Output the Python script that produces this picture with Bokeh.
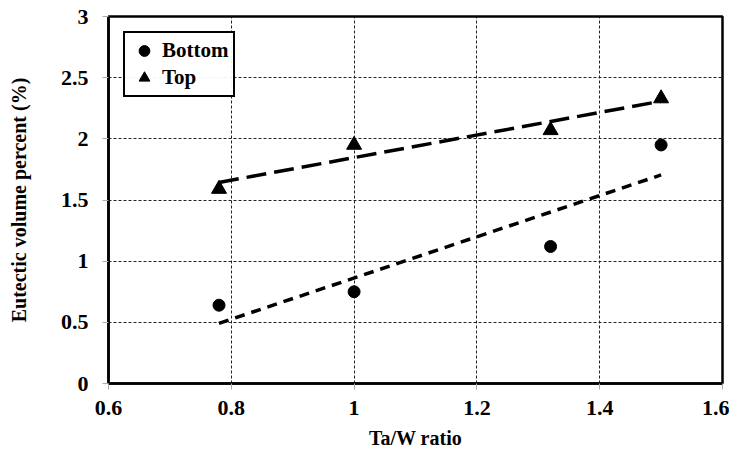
import numpy as np
from bokeh.plotting import figure
from bokeh.models import FixedTicker, Legend, LegendItem
from bokeh.embed import file_html
from bokeh.resources import INLINE

ta_w = [0.78, 1.0, 1.32, 1.5]
bottom = [0.64, 0.75, 1.12, 1.95]
top = [1.59, 1.95, 2.07, 2.33]
x_ticks = [0.6, 0.8, 1.0, 1.2, 1.4, 1.6]
x_tick_labels = ["0.6", "0.8", "1", "1.2", "1.4", "1.6"]
y_ticks = [0, 0.5, 1.0, 1.5, 2.0, 2.5, 3.0]
y_tick_labels = ["0", "0.5", "1", "1.5", "2", "2.5", "3"]

FONT = "Liberation Serif"

p = figure(width=729, height=451, x_range=(0.6, 1.6), y_range=(0, 3),
           output_backend="svg", toolbar_location=None,
           min_border_left=108, min_border_right=7, min_border_top=16, min_border_bottom=65)

p.outline_line_color = "black"
p.outline_line_width = 2.5

for ax in (p.xaxis[0], p.yaxis[0]):
    ax.major_label_text_font = FONT
    ax.major_label_text_font_style = "bold"
    ax.major_label_text_font_size = "22px"
    ax.major_label_text_color = "black"
    ax.axis_label_text_font = FONT
    ax.axis_label_text_font_style = "bold"
    ax.axis_label_text_font_size = "20px"
    ax.axis_label_text_color = "black"
    ax.axis_line_color = "black"
    ax.axis_line_width = 2.5
    ax.major_tick_line_color = "#aaaaaa"
    ax.major_tick_out = 6
    ax.major_tick_in = 0
    ax.minor_tick_line_color = None

p.xaxis.ticker = FixedTicker(ticks=x_ticks)
p.yaxis.ticker = FixedTicker(ticks=y_ticks)
p.xaxis.major_label_overrides = {t: l for t, l in zip(x_ticks, x_tick_labels)}
p.yaxis.major_label_overrides = {t: l for t, l in zip(y_ticks, y_tick_labels)}
p.xaxis.axis_label = "Ta/W ratio"
p.yaxis.axis_label = "Eutectic volume percent (%)"
p.xaxis.major_label_standoff = 11
p.yaxis.major_label_standoff = 14
p.xaxis.axis_label_standoff = 9
p.yaxis.axis_label_standoff = 28

for g in (p.xgrid[0], p.ygrid[0]):
    g.grid_line_color = "#222222"
    g.grid_line_dash = "3 2"
    g.grid_line_width = 1

# linear trend lines
xs = np.array(ta_w)
kb = np.polyfit(xs, bottom, 1)
kt = np.polyfit(xs, top, 1)
xe = np.array([min(ta_w), max(ta_w)])
p.line(xe, np.polyval(kt, xe), line_color="black", line_width=3.5, line_dash="20 8")
p.line(xe, np.polyval(kb, xe), line_color="black", line_width=3.5, line_dash="10 7")

r1 = p.scatter(ta_w, bottom, marker="circle", size=12, color="black")
r2 = p.scatter(ta_w, top, marker="triangle", size=15, color="black")

legend = Legend(items=[LegendItem(label="Bottom", renderers=[r1]),
                       LegendItem(label="Top", renderers=[r2])],
                location="top_left")
legend.label_text_font = FONT
legend.label_text_font_style = "bold"
legend.label_text_font_size = "21px"
legend.label_text_color = "black"
legend.border_line_color = "black"
legend.border_line_alpha = 1.0
legend.border_line_width = 2.5
legend.margin = 15
legend.padding = 4
legend.spacing = -4
legend.glyph_width = 30
legend.glyph_height = 27
legend.label_height = 20
legend.label_standoff = 3
p.add_layout(legend)

open("out.html", "w").write(file_html(p, INLINE))
